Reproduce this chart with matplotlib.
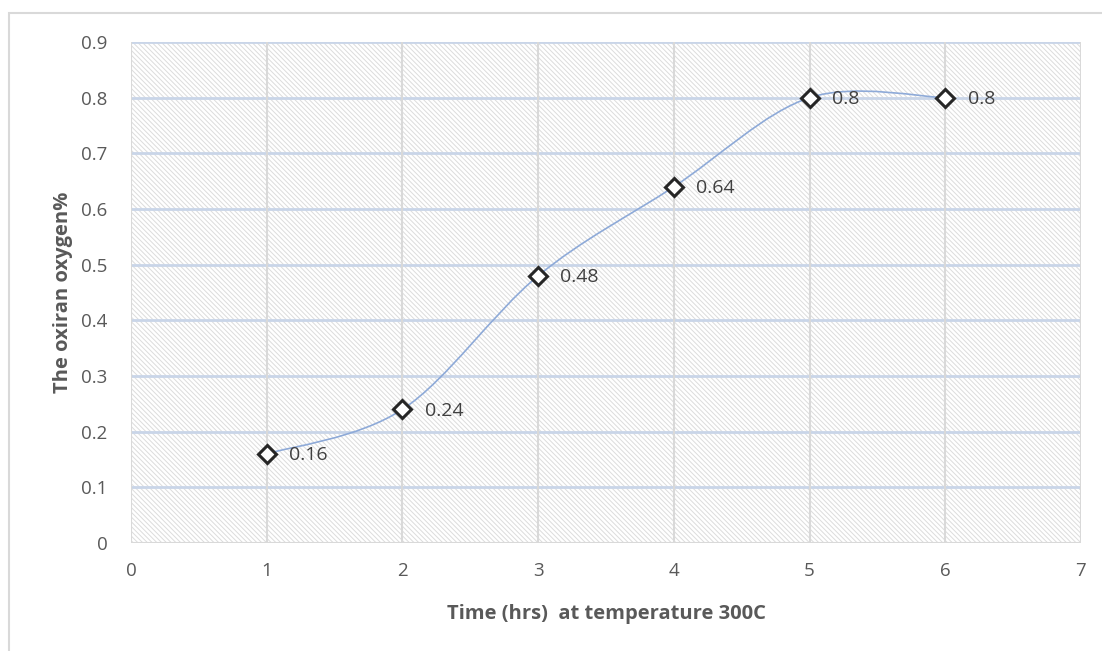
import matplotlib.pyplot as plt
import numpy as np
from matplotlib.path import Path
from matplotlib.patches import PathPatch, Rectangle

plt.rcParams['font.family'] = ['Open Sans', 'DejaVu Sans']
plt.rcParams['hatch.color'] = '#dcdcdc'
plt.rcParams['hatch.linewidth'] = 0.7

hours = [1, 2, 3, 4, 5, 6]
oxygen = [0.16, 0.24, 0.48, 0.64, 0.8, 0.8]
labels = ['0.16', '0.24', '0.48', '0.64', '0.8', '0.8']

fig = plt.figure(figsize=(11.02, 6.51), dpi=100)
# outer chart border (only top/left visible)
fig.patches.append(Rectangle((9 / 1102, -0.1), 1.2, (651 - 13) / 651 + 0.1,
                             transform=fig.transFigure, fill=False,
                             edgecolor='#d9d9d9', linewidth=1.5))

ax = fig.add_axes([131 / 1102, (651 - 543) / 651, 950 / 1102, 501 / 651])
ax.set_xlim(0, 7)
ax.set_ylim(0, 0.9)

# hatched plot area
ax.add_patch(Rectangle((0, 0), 1, 1, transform=ax.transAxes, facecolor='white',
                       hatch='\\' * 7, edgecolor='#dcdcdc', linewidth=0, zorder=0))

for v in np.arange(0.1, 0.91, 0.1):
    ax.axhline(v, color='#c9d5e8', linewidth=2, zorder=1)
for v in range(0, 8):
    ax.axvline(v, color='#d9d9d9', linewidth=1.5, zorder=1)
ax.axhline(0, color='#d9d9d9', linewidth=1.5, zorder=1)

# smoothed line (Catmull-Rom style bezier like Excel)
x = np.array(hours, dtype=float)
y = np.array(oxygen, dtype=float)
n = len(x)
verts = [(x[0], y[0])]
codes = [Path.MOVETO]
for i in range(n - 1):
    p0 = np.array([x[max(i - 1, 0)], y[max(i - 1, 0)]])
    p1 = np.array([x[i], y[i]])
    p2 = np.array([x[i + 1], y[i + 1]])
    p3 = np.array([x[min(i + 2, n - 1)], y[min(i + 2, n - 1)]])
    c1 = p1 + (p2 - p0) / 6
    c2 = p2 - (p3 - p1) / 6
    verts += [tuple(c1), tuple(c2), tuple(p2)]
    codes += [Path.CURVE4] * 3
ax.add_patch(PathPatch(Path(verts, codes), facecolor='none',
                       edgecolor='#8eaad8', linewidth=1.2, zorder=3))

ax.plot(hours, oxygen, linestyle='none', marker='D', markersize=9,
        markerfacecolor='white', markeredgecolor='#262626',
        markeredgewidth=2.2, zorder=4)
for xi, yi, lab in zip(hours, oxygen, labels):
    ax.annotate(lab, (xi, yi), xytext=(16, -1), textcoords='offset points',
                va='center', ha='left', fontsize=14, color='#404040', zorder=5)

ax.set_xticks(range(0, 8))
ax.set_yticks(np.round(np.arange(0, 0.91, 0.1), 1))
ax.set_yticklabels(['0', '0.1', '0.2', '0.3', '0.4', '0.5', '0.6', '0.7', '0.8', '0.9'])
ax.tick_params(length=0, labelsize=13.5, labelcolor='#595959')
ax.tick_params(axis='x', pad=14)
ax.tick_params(axis='y', pad=17)
for s in ax.spines.values():
    s.set_visible(False)

ax.set_xlabel('Time (hrs)  at temperature 300C', fontsize=14.5, fontweight='bold',
              color='#595959', labelpad=17)
ax.set_ylabel('The oxiran oxygen%', fontsize=14.5, fontweight='bold',
              color='#595959', labelpad=6)

fig.savefig('out.png', dpi=100)
